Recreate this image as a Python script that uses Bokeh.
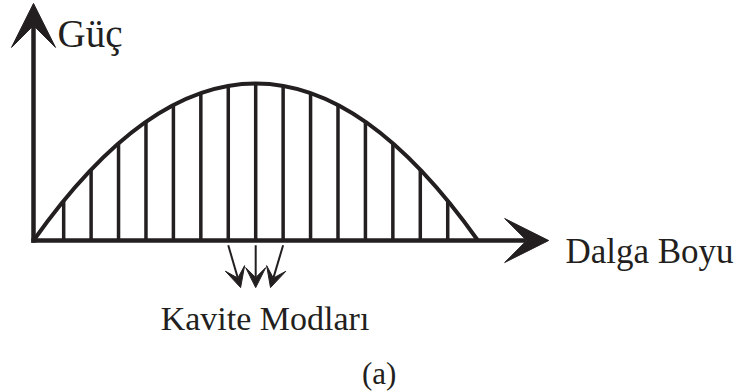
from bokeh.plotting import figure
from bokeh.models import Range1d, Arrow, VeeHead, ColumnDataSource
from bokeh.core.properties import value
from bokeh.embed import file_html
from bokeh.resources import INLINE

# ---- data ----
mode_wavelength = [1.1, 2.1, 3.1, 4.1, 5.1, 6.1, 7.1, 8.1, 9.1, 10.1, 11.1, 12.1, 13.1, 14.1, 15.1]
mode_power = [0.253, 0.451, 0.619, 0.756, 0.863, 0.939, 0.985, 1.0, 0.985, 0.939, 0.863, 0.756, 0.619, 0.451, 0.253]
envelope_start = 0.0
envelope_peak = 8.1
envelope_end = 16.2
envelope_power = 1.0
pointed_modes = [7.1, 8.1, 9.1]
pointer_tips = [7.55, 8.1, 8.64]
pointer_tip_power = -0.30
x_axis_end = 18.78
y_axis_end = 1.51

y_label = "Güç"
x_label = "Dalga Boyu"
mode_label = "Kavite Modları"
caption = "(a)"

INK = "#231f20"
FONT = value("Liberation Serif")

p = figure(width=738, height=392, output_backend="svg", toolbar_location=None,
           x_range=Range1d(-1.203, 25.70), y_range=Range1d(-0.968, 1.5287),
           x_axis_type=None, y_axis_type=None, min_border=0)
p.outline_line_color = None
p.grid.visible = False
p.background_fill_color = "white"
p.border_fill_color = "white"

# envelope (parabolic gain curve)
p.quadratic(x0=[envelope_start], y0=[0], x1=[envelope_end], y1=[0],
            cx=[envelope_peak], cy=[2 * envelope_power],
            line_color=INK, line_width=4)

# cavity modes
p.segment(x0=mode_wavelength, y0=[0] * len(mode_wavelength),
          x1=mode_wavelength, y1=mode_power, line_color=INK, line_width=3.5)

# axes with arrow heads
p.add_layout(Arrow(x_start=-0.08, y_start=0, x_end=x_axis_end, y_end=0,
                   line_color=INK, line_width=4.5,
                   end=VeeHead(size=44, fill_color=INK, line_color=INK, line_width=1)))
p.add_layout(Arrow(x_start=0, y_start=-0.014, x_end=0, y_end=y_axis_end,
                   line_color=INK, line_width=4.5,
                   end=VeeHead(size=44, fill_color=INK, line_color=INK, line_width=1)))

# pointer arrows to the cavity modes
src = ColumnDataSource(dict(xs=pointed_modes, ys=[-0.03] * len(pointed_modes),
                            xe=pointer_tips, ye=[pointer_tip_power] * len(pointed_modes)))
p.add_layout(Arrow(x_start="xs", y_start="ys", x_end="xe", y_end="ye", source=src,
                   line_color=INK, line_width=2,
                   end=VeeHead(size=20, fill_color=INK, line_color=INK, line_width=1)))

# texts
p.text(x=[0.875], y=[1.318], text=[y_label], text_font=FONT, text_font_size=value("39px"),
       text_color=INK, text_align="left", text_baseline="alphabetic")
p.text(x=[19.39], y=[-0.07], text=[x_label], text_font=FONT, text_font_size=value("35px"),
       text_color=INK, text_align="left", text_baseline="alphabetic")
p.text(x=[8.44], y=[-0.497], text=[mode_label], text_font=FONT, text_font_size=value("34px"),
       text_color=INK, text_align="center", text_baseline="alphabetic")
p.text(x=[12.6], y=[-0.845], text=[caption], text_font=FONT, text_font_size=value("31px"),
       text_color=INK, text_align="center", text_baseline="alphabetic")

open("out.html", "w").write(file_html(p, INLINE))
